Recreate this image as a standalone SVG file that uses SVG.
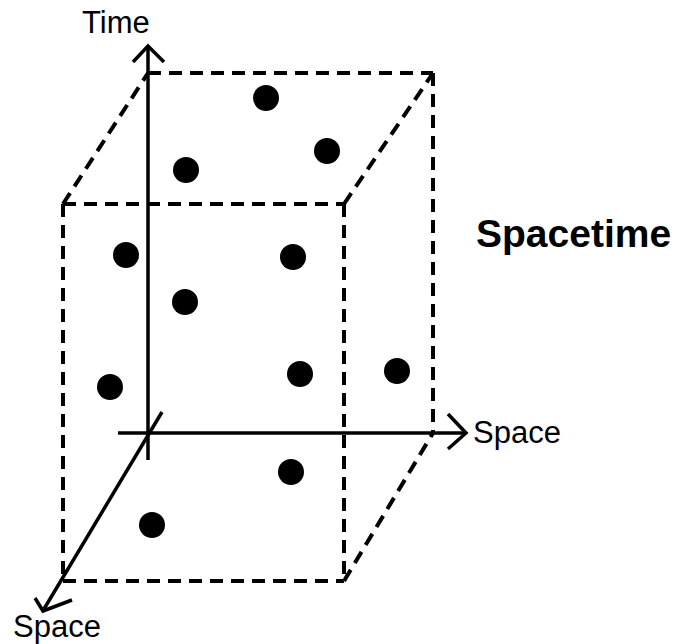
<svg xmlns="http://www.w3.org/2000/svg" width="677" height="644" viewBox="0 0 677 644">
<style>
.dash{fill:none;stroke:#000;stroke-width:4;stroke-dasharray:13 8;stroke-linecap:butt}
.axis{fill:none;stroke:#000;stroke-width:3.5}
.head{fill:none;stroke:#000;stroke-width:3.5;stroke-linejoin:miter}
.dot{fill:#000}
.lbl{font-family:"Liberation Sans",Arial,sans-serif;font-size:31px;fill:#000}
.title{font-family:"Liberation Sans",Arial,sans-serif;font-size:39px;font-weight:bold;fill:#000}
</style>
<rect width="677" height="644" fill="#fff"/>
<g id="cube">
<line class="dash" x1="63" y1="204" x2="344" y2="204"/>
<line class="dash" x1="63" y1="204" x2="63" y2="581"/>
<line class="dash" x1="344" y1="204" x2="344" y2="581"/>
<line class="dash" x1="63" y1="581" x2="344" y2="581"/>
<line class="dash" x1="148" y1="73" x2="433" y2="73"/>
<line class="dash" x1="433" y1="73" x2="433" y2="433"/>
<line class="dash" x1="63" y1="204" x2="148" y2="73"/>
<line class="dash" x1="344" y1="204" x2="433" y2="73"/>
<line class="dash" x1="344" y1="581" x2="433" y2="433"/>
</g>
<g id="connectors">
<line class="axis" x1="148" y1="460" x2="148" y2="47"/>
<polyline class="head" points="133,62 148,46 164,62"/>
<line class="axis" x1="118" y1="433" x2="465" y2="433"/>
<polyline class="head" points="448,414 466,433 448,449"/>
<line class="axis" x1="162" y1="412" x2="44" y2="609"/>
<polyline class="head" points="35,598 43,611 72,600"/>
</g>
<g id="points">
<circle class="dot" cx="266" cy="98" r="13"/>
<circle class="dot" cx="327" cy="151" r="13"/>
<circle class="dot" cx="186" cy="170" r="13"/>
<circle class="dot" cx="126" cy="255" r="13"/>
<circle class="dot" cx="293" cy="257" r="13"/>
<circle class="dot" cx="185" cy="302" r="13"/>
<circle class="dot" cx="110" cy="387" r="13"/>
<circle class="dot" cx="300" cy="374" r="13"/>
<circle class="dot" cx="397" cy="371" r="13"/>
<circle class="dot" cx="291" cy="472" r="13"/>
<circle class="dot" cx="152" cy="525" r="13"/>
</g>
<g id="labels">
<text id="time" class="lbl" x="82" y="33">Time</text>
<text id="space-x" class="lbl" x="473" y="443">Space</text>
<text id="space-z" class="lbl" x="13" y="637">Space</text>
<text id="spacetime" class="title" x="476" y="247">Spacetime</text>
</g>
</svg>
